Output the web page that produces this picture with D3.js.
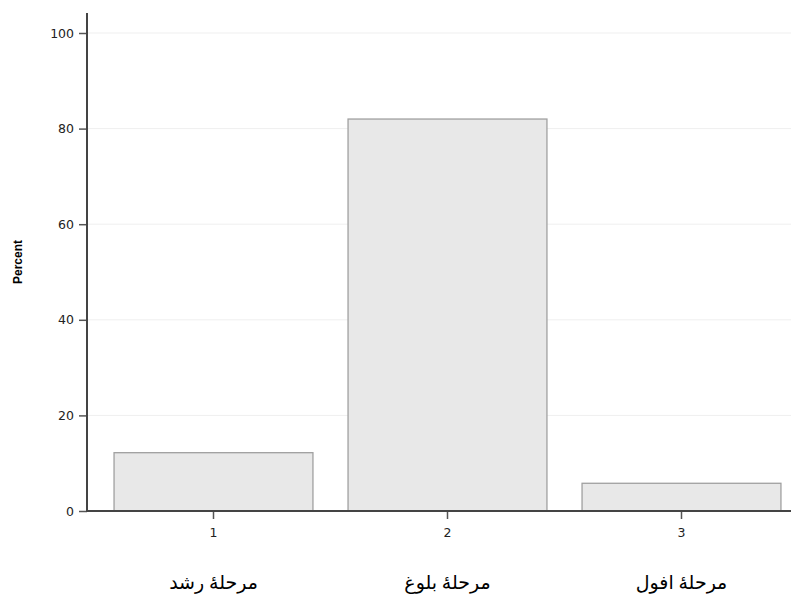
<!DOCTYPE html>
<html>
<head>
<meta charset="utf-8">
<script src="https://cdn.jsdelivr.net/npm/d3@7"></script>
<style>
  body { margin: 0; background: #fff; }
  .tick text { font-family: "DejaVu Sans", Verdana, sans-serif; font-size: 12.5px; fill: #222; }
  .cat-label { font-family: "Liberation Serif", "DejaVu Sans", serif; font-size: 19px; fill: #000; }
</style>
</head>
<body>
<div id="chart"></div>
<script>
// chart values
const codes = ['1', '2', '3'];
const categories = ['مرحلۀ رشد', 'مرحلۀ بلوغ', 'مرحلۀ افول'];
const percents = [12.2, 82.0, 5.8];
const yTicks = [0, 20, 40, 60, 80, 100];

const width = 791, height = 599;
const margin = {top: 13, right: 0, bottom: 88, left: 87};

const svg = d3.select('#chart').append('svg')
    .attr('width', width)
    .attr('height', height);

const data = codes.map((c, i) => ({code: c, label: categories[i], value: percents[i]}));

const y = d3.scaleLinear()
    .domain([0, 100])
    .range([511, 33]);

const x = d3.scaleBand()
    .domain(codes)
    .range([96.5, 798.5])
    .paddingInner(0.15)
    .paddingOuter(0.075);

// gridlines
svg.append('g')
  .selectAll('line')
  .data(yTicks)
  .join('line')
    .attr('x1', margin.left)
    .attr('x2', width)
    .attr('y1', d => y(d))
    .attr('y2', d => y(d))
    .attr('stroke', '#efefef')
    .attr('stroke-width', 1);

// bars
svg.append('g')
  .selectAll('rect')
  .data(data)
  .join('rect')
    .attr('x', d => x(d.code))
    .attr('y', d => y(d.value))
    .attr('width', x.bandwidth())
    .attr('height', d => y(0) - y(d.value))
    .attr('fill', '#e8e8e8')
    .attr('stroke', '#a0a0a0')
    .attr('stroke-width', 1.3);

// y axis
const yAxis = svg.append('g')
    .attr('transform', `translate(${margin.left},0)`)
    .call(d3.axisLeft(y).tickValues(yTicks).tickSize(8).tickPadding(5));
yAxis.select('.domain').remove();
yAxis.selectAll('.tick line').attr('stroke', '#555').attr('stroke-width', 1.5);
svg.append('line')
    .attr('x1', margin.left).attr('x2', margin.left)
    .attr('y1', margin.top).attr('y2', y(0) + 1)
    .attr('stroke', '#444').attr('stroke-width', 2);

// x axis
const xAxis = svg.append('g')
    .attr('transform', `translate(0,${y(0)})`)
    .call(d3.axisBottom(x).tickSize(8).tickPadding(9));
xAxis.select('.domain').remove();
xAxis.selectAll('.tick line').attr('stroke', '#555').attr('stroke-width', 1.5);
svg.append('line')
    .attr('x1', margin.left - 1).attr('x2', width)
    .attr('y1', y(0)).attr('y2', y(0))
    .attr('stroke', '#444').attr('stroke-width', 2);

// category labels below the codes
svg.append('g')
  .selectAll('text')
  .data(data)
  .join('text')
    .attr('class', 'cat-label')
    .attr('x', d => x(d.code) + x.bandwidth() / 2)
    .attr('y', 589)
    .attr('text-anchor', 'middle')
    .attr('direction', 'rtl')
    .text(d => d.label);

// y axis title
svg.append('text')
    .attr('transform', `translate(22,${(margin.top + y(0)) / 2}) rotate(-90)`)
    .attr('text-anchor', 'middle')
    .style('font-family', '"Liberation Sans", Arial, sans-serif')
    .style('font-size', '12px')
    .style('font-weight', 'bold')
    .text('Percent');
</script>
</body>
</html>
